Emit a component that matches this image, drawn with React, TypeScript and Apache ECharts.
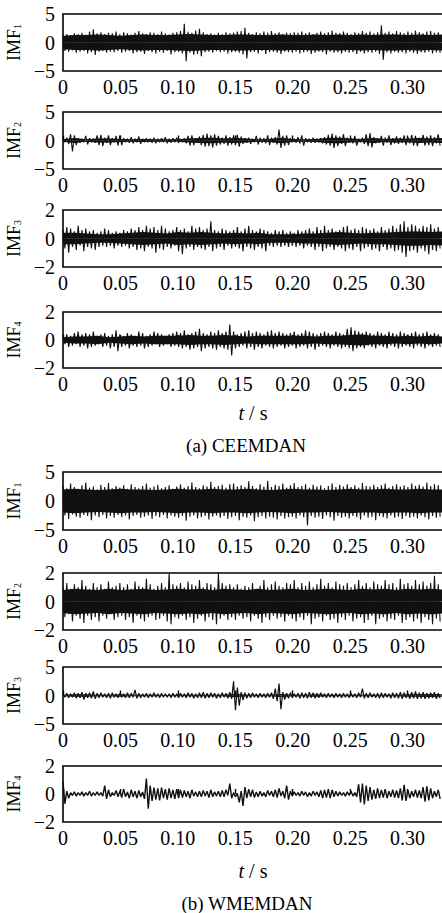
import React, { useEffect, useRef } from "react";
import * as echarts from "echarts";

// ---- data (envelope peaks read per time bin, DT = 0.0033 s) ----
const DT = 0.0033;
const X_MAX = 0.35;
const X_STEP = 0.05;
// solid-core half-width read every 0.01 s (t = 0 ... 0.33)
const CORE_DT = 0.01;

const ceemdan1Hi = [1.4,1.5,1.3,1.6,1.5,1.7,1.4,1.9,2.3,1.6,1.8,1.5,1.7,1.6,1.9,
1.5,1.8,1.6,1.4,1.7,2.0,1.6,1.5,1.8,1.7,1.5,1.9,1.6,1.4,1.7,
1.8,2.0,3.3,1.9,1.7,2.1,2.4,1.8,1.5,1.6,1.4,1.7,1.5,1.8,1.6,
1.7,1.9,2.0,2.6,1.7,1.5,1.8,1.6,1.9,1.7,2.0,1.6,1.8,1.5,1.7,
1.6,1.8,1.7,1.9,1.6,1.8,1.5,1.7,1.9,1.6,1.8,2.1,1.7,1.6,1.9,
1.7,1.5,1.8,1.6,2.0,1.7,1.9,1.6,1.8,3.0,1.7,1.9,1.6,2.0,1.8,
1.6,1.9,1.7,2.1,1.8,1.6,1.9,2.0,1.7,1.8];
const ceemdan1Lo = [-1.5,-1.6,-1.4,-1.8,-1.6,-1.5,-1.9,-1.7,-2.2,-1.6,-1.5,-1.8,-1.6,-1.7,-1.5,
-1.8,-1.6,-1.5,-1.9,-1.7,-1.6,-2.0,-1.5,-1.7,-1.9,-1.6,-1.8,-1.5,-2.1,-1.7,
-1.6,-1.9,-3.3,-1.8,-2.2,-2.0,-2.4,-1.7,-1.6,-1.8,-1.5,-1.7,-1.6,-1.9,-1.7,
-1.6,-1.8,-2.1,-2.8,-1.7,-1.6,-1.9,-1.5,-2.0,-1.7,-1.6,-1.8,-2.0,-1.6,-1.7,
-1.8,-1.6,-1.9,-1.7,-1.6,-2.0,-1.8,-1.6,-1.7,-2.1,-1.6,-1.8,-1.7,-1.9,-1.6,
-1.8,-1.7,-2.0,-1.6,-1.9,-1.7,-1.8,-1.6,-2.0,-3.0,-1.7,-1.9,-1.6,-1.8,-1.7,
-1.9,-1.6,-1.8,-2.0,-1.7,-1.8,-1.6,-1.9,-1.7,-1.8];
const ceemdan1Core = [1.2,1.3,1.3,1.4,1.3,1.2,1.3,1.4,1.3,1.3,1.4,1.5,1.4,1.3,1.3,1.4,1.4,
1.3,1.3,1.4,1.3,1.3,1.4,1.3,1.4,1.3,1.4,1.3,1.4,1.4,1.3,1.4,1.3,1.4];

const ceemdan2Hi = [0.3,0.5,1.1,0.9,0.4,0.3,0.8,0.4,0.3,0.9,1.0,0.5,0.9,0.4,0.8,
0.9,0.4,0.3,0.6,0.3,0.7,0.3,0.4,0.3,0.5,0.3,0.4,0.6,0.3,0.4,
0.5,0.3,0.4,0.8,0.9,0.4,0.7,1.0,1.2,0.9,1.1,0.8,0.5,0.9,0.6,
0.9,1.0,0.7,0.4,0.5,0.3,0.8,0.5,0.4,0.9,0.5,0.6,1.9,0.8,0.9,
0.4,0.3,0.6,0.9,0.4,0.3,0.5,0.3,0.4,0.6,1.0,1.2,0.9,0.7,1.1,
0.5,0.4,0.8,0.3,0.5,1.1,1.3,0.6,0.4,0.8,0.5,0.9,0.4,0.7,0.5,
0.9,0.6,1.0,0.8,0.5,1.0,0.7,0.9,0.6,1.1];
const ceemdan2Lo = [-0.3,-0.6,-1.9,-0.8,-0.4,-0.3,-0.7,-0.3,-0.4,-0.8,-1.0,-0.4,-0.8,-0.3,-0.9,
-0.8,-0.3,-0.4,-0.5,-0.3,-0.6,-0.3,-0.3,-0.4,-0.5,-0.3,-0.3,-0.5,-0.4,-0.3,
-0.4,-0.3,-0.5,-0.9,-0.8,-0.4,-0.8,-1.1,-1.0,-1.2,-0.9,-0.7,-0.6,-0.9,-0.7,
-0.8,-1.1,-0.6,-0.4,-0.6,-0.3,-0.7,-0.4,-0.5,-0.8,-0.4,-0.7,-1.3,-0.9,-0.8,
-0.3,-0.4,-0.5,-0.9,-0.3,-0.4,-0.4,-0.3,-0.5,-0.7,-0.9,-1.3,-1.0,-0.6,-1.0,
-0.4,-0.5,-0.9,-0.3,-0.6,-1.0,-1.2,-0.5,-0.4,-0.9,-0.4,-0.8,-0.5,-0.6,-0.4,
-0.8,-0.5,-0.9,-1.0,-0.4,-0.9,-0.8,-1.0,-0.5,-0.9];
const ceemdan2Core = [0.2,0.45,0.2,0.35,0.35,0.25,0.2,0.25,0.2,0.2,0.2,0.35,0.45,0.5,0.35,0.45,0.35,
0.2,0.25,0.5,0.25,0.2,0.25,0.45,0.5,0.35,0.25,0.45,0.25,0.35,0.3,0.45,0.35,0.45];

const ceemdan3Hi = [0.6,0.8,0.7,0.5,0.9,0.6,0.7,0.5,0.6,0.4,0.5,0.7,0.6,0.4,0.5,
0.4,0.6,0.5,0.7,0.6,0.8,0.6,0.9,0.7,0.8,0.6,0.9,0.7,0.5,0.6,
0.8,0.6,0.7,0.5,0.9,0.7,0.8,0.6,0.7,1.2,0.6,0.5,0.7,0.6,0.5,
0.6,0.8,0.5,0.7,0.9,0.6,0.5,0.7,0.6,0.5,0.4,0.6,0.5,0.6,0.4,
0.5,0.4,0.6,0.5,0.6,0.7,0.5,0.8,0.6,0.9,0.6,0.7,0.5,0.6,0.8,
0.9,0.6,0.7,0.6,0.8,0.7,0.6,0.7,0.5,0.8,0.6,0.7,0.9,0.7,1.0,
1.2,0.8,1.0,0.9,0.7,0.9,0.8,1.0,0.7,0.8];
const ceemdan3Lo = [-0.7,-1.0,-0.6,-0.8,-0.5,-0.9,-0.6,-0.7,-0.8,-0.6,-0.5,-0.6,-0.5,-0.7,-0.5,
-0.6,-0.5,-0.7,-0.6,-0.8,-0.7,-0.9,-0.6,-0.7,-1.0,-0.7,-0.8,-0.6,-0.7,-0.5,
-0.9,-1.1,-0.7,-0.6,-0.8,-0.6,-0.7,-0.8,-0.6,-0.9,-0.7,-0.6,-0.8,-0.5,-0.7,
-0.6,-0.7,-0.9,-0.6,-0.7,-0.8,-0.6,-0.7,-0.9,-0.5,-0.6,-0.5,-0.6,-0.5,-0.6,
-0.5,-0.6,-0.5,-0.7,-0.5,-0.6,-0.8,-0.6,-0.9,-0.7,-0.6,-0.8,-0.6,-0.7,-0.9,
-0.7,-0.8,-0.6,-0.9,-0.7,-0.6,-0.8,-0.7,-0.9,-0.6,-0.8,-0.7,-0.9,-0.8,-1.0,
-1.3,-0.9,-0.8,-1.0,-0.7,-0.9,-1.1,-0.8,-0.9,-0.7];
const ceemdan3Core = [0.4,0.4,0.35,0.3,0.3,0.35,0.4,0.45,0.4,0.35,0.45,0.4,0.45,0.4,0.35,0.4,0.35,
0.4,0.3,0.3,0.3,0.35,0.35,0.4,0.45,0.4,0.35,0.4,0.4,0.45,0.5,0.5,0.45,0.5];

const ceemdan4Hi = [0.3,0.4,0.3,0.5,0.6,0.4,0.5,0.4,0.6,0.3,0.4,0.5,0.3,0.4,0.7,
0.4,0.3,0.5,0.4,0.3,0.6,0.5,0.3,0.4,0.6,0.5,0.4,0.3,0.4,0.5,
0.6,0.5,0.7,0.4,0.5,0.6,0.8,0.5,0.4,0.6,0.5,0.7,0.5,0.6,1.1,
0.6,0.4,0.5,0.6,0.7,0.5,0.6,0.5,0.4,0.6,0.7,0.5,0.6,0.5,0.4,
0.5,0.6,0.4,0.5,0.7,0.6,0.5,0.4,0.5,0.6,0.5,0.4,0.6,0.5,0.4,
0.8,0.9,0.7,0.6,0.5,0.6,0.5,0.4,0.6,0.5,0.4,0.6,0.5,0.4,0.6,
0.5,0.4,0.5,0.6,0.4,0.5,0.6,0.4,0.5,0.4];
const ceemdan4Lo = [-0.3,-0.5,-0.4,-0.3,-0.5,-0.4,-0.6,-0.5,-0.4,-0.3,-0.5,-0.4,-0.6,-0.5,-0.8,
-0.5,-0.4,-0.6,-0.4,-0.5,-0.4,-0.6,-0.5,-0.4,-0.3,-0.5,-0.4,-0.3,-0.5,-0.4,
-0.5,-0.6,-0.5,-0.7,-0.6,-0.5,-0.8,-0.6,-0.5,-0.6,-0.7,-0.5,-0.6,-0.7,-1.1,
-0.6,-0.5,-0.4,-0.6,-0.5,-0.7,-0.5,-0.6,-0.4,-0.5,-0.6,-0.5,-0.4,-0.6,-0.5,
-0.4,-0.6,-0.5,-0.4,-0.6,-0.5,-0.7,-0.5,-0.4,-0.5,-0.6,-0.4,-0.5,-0.6,-0.5,
-0.6,-0.8,-0.6,-0.5,-0.6,-0.4,-0.5,-0.6,-0.4,-0.5,-0.6,-0.4,-0.5,-0.6,-0.5,
-0.4,-0.5,-0.6,-0.4,-0.5,-0.6,-0.4,-0.5,-0.4,-0.5];
const ceemdan4Core = [0.2,0.25,0.25,0.3,0.2,0.25,0.3,0.25,0.3,0.3,0.3,0.35,0.3,0.3,0.35,0.3,0.25,
0.3,0.3,0.3,0.3,0.3,0.25,0.3,0.3,0.35,0.4,0.3,0.3,0.25,0.3,0.25,0.3,0.25];

const wmemdan1Hi = [2.6,2.2,3.0,2.4,2.1,2.7,3.2,2.3,2.5,2.0,2.8,2.4,3.1,2.2,2.6,
2.3,2.7,2.1,2.9,2.4,2.2,2.6,3.0,2.3,2.5,2.8,2.2,2.4,2.7,2.1,
2.5,2.9,2.3,2.6,3.2,2.4,2.2,2.7,2.5,3.3,2.4,2.6,2.8,2.3,2.9,
3.0,2.5,2.7,2.4,3.4,2.6,2.2,2.9,2.5,3.5,2.4,2.8,2.6,3.0,2.3,
2.7,3.1,2.4,2.6,2.9,2.3,2.8,2.5,2.7,2.2,2.6,3.0,2.4,2.8,2.5,
2.9,2.4,2.7,2.3,3.1,2.6,2.5,2.8,2.4,2.7,3.0,2.3,2.6,2.9,2.5,
2.7,2.4,3.0,2.6,2.8,2.5,3.2,2.6,2.9,2.7];
const wmemdan1Lo = [-2.5,-3.1,-2.3,-2.7,-2.9,-2.4,-2.6,-3.3,-2.5,-2.8,-2.4,-3.0,-2.6,-2.9,-2.4,
-2.8,-2.5,-3.2,-2.6,-2.4,-2.9,-2.7,-2.5,-3.1,-2.6,-2.8,-2.4,-3.0,-2.5,-2.7,
-2.9,-2.6,-3.4,-2.7,-2.5,-3.0,-2.8,-2.6,-3.2,-2.7,-2.5,-2.9,-2.6,-3.1,-2.8,
-2.6,-3.3,-2.7,-2.9,-2.5,-3.5,-2.8,-2.6,-3.0,-2.7,-2.9,-3.2,-2.6,-3.0,-2.8,
-2.7,-3.0,-2.5,-2.8,-4.2,-2.6,-2.9,-2.7,-3.1,-2.5,-2.8,-3.4,-2.6,-2.9,-2.7,
-3.0,-2.6,-2.8,-3.2,-2.5,-2.9,-2.7,-3.3,-2.6,-2.8,-3.0,-2.5,-2.9,-2.7,-3.1,
-2.6,-2.9,-2.7,-3.0,-2.5,-2.8,-3.2,-2.6,-2.9,-2.7];
const wmemdan1Core = [2.0,2.1,2.0,1.9,2.0,2.1,2.0,2.0,1.9,2.0,2.1,2.0,2.0,2.1,2.0,2.0,2.1,
2.0,1.9,2.0,2.1,2.0,2.0,1.9,2.0,2.1,2.0,2.0,2.1,2.0,2.0,2.1,2.0,2.0];

const wmemdan2Hi = [1.0,1.3,0.9,1.2,1.0,1.5,1.1,0.9,1.3,1.0,1.2,0.9,1.4,1.0,1.1,
1.3,1.0,1.2,0.9,1.4,1.1,1.0,1.6,1.2,0.9,1.1,1.3,1.0,2.0,1.2,
1.1,1.3,1.0,1.4,1.2,1.1,1.5,1.0,1.3,1.2,1.0,2.0,1.3,1.1,1.2,
1.0,1.2,0.9,1.1,1.0,1.3,0.9,1.1,1.5,1.0,1.2,1.4,1.1,1.0,1.3,
1.2,1.5,1.0,1.3,1.1,1.4,1.0,1.2,1.6,1.1,1.3,1.0,1.4,1.2,1.1,
1.3,1.0,1.2,1.5,1.1,1.3,1.0,1.4,1.2,1.1,1.5,1.2,1.3,1.0,1.6,
1.2,1.3,1.1,1.5,1.2,1.4,1.1,1.3,1.8,1.2];
const wmemdan2Lo = [-1.1,-0.9,-1.4,-1.0,-1.2,-1.5,-1.0,-1.3,-1.1,-1.4,-1.0,-1.2,-0.9,-1.3,-1.1,
-1.0,-1.3,-1.1,-1.5,-1.0,-1.2,-1.4,-1.1,-1.0,-1.3,-1.2,-1.0,-1.4,-1.6,-1.1,
-1.2,-1.0,-1.3,-1.1,-1.5,-1.2,-1.0,-1.4,-1.1,-1.3,-1.6,-1.2,-1.0,-1.3,-1.1,
-1.3,-1.0,-1.2,-1.1,-1.4,-1.0,-1.2,-1.5,-1.1,-1.3,-1.0,-1.2,-1.1,-1.4,-1.0,
-1.2,-1.4,-1.1,-1.3,-1.0,-1.6,-1.2,-1.1,-1.4,-1.0,-1.3,-1.2,-1.5,-1.1,-1.3,
-1.0,-1.4,-1.2,-1.1,-1.5,-1.3,-1.0,-1.6,-1.2,-1.1,-1.4,-1.2,-1.3,-1.0,-1.5,
-1.3,-1.1,-1.4,-1.2,-1.5,-1.1,-1.3,-1.6,-1.2,-1.4];
const wmemdan2Core = [0.8,0.9,0.85,0.8,0.9,0.8,0.85,0.9,0.8,0.85,0.9,0.85,0.9,0.8,0.9,0.85,0.8,
0.9,0.8,0.85,0.9,0.8,0.85,0.9,0.85,0.8,0.9,0.85,0.9,0.8,0.9,0.85,0.9,0.85];

const wmemdan3Hi = [0.3,0.4,0.3,0.5,0.4,0.6,0.4,0.5,0.7,0.4,0.5,0.3,0.4,0.5,0.3,
0.4,0.3,0.5,0.4,1.0,0.4,0.3,0.4,0.3,0.5,0.3,0.4,0.3,0.3,0.4,
0.3,0.4,0.3,0.5,0.4,0.3,0.5,0.6,0.4,0.5,0.4,0.3,0.5,0.4,0.6,
2.5,1.4,0.6,0.5,0.4,0.5,0.3,0.4,0.3,0.4,0.5,1.2,2.1,0.6,0.4,
0.5,0.3,0.4,0.5,0.4,0.6,0.5,0.4,0.5,0.3,0.4,0.3,0.4,0.3,0.4,
0.3,0.4,0.3,0.5,1.2,0.4,0.5,0.3,0.4,0.5,0.4,0.3,0.5,0.4,0.6,
0.5,0.4,0.6,0.7,0.5,0.6,0.4,0.5,0.6,0.4];
const wmemdan3Lo = [-0.3,-0.4,-0.3,-0.5,-0.4,-0.7,-0.4,-0.5,-0.6,-0.4,-0.3,-0.4,-0.5,-0.3,-0.4,
-0.3,-0.4,-0.4,-0.3,-0.5,-0.4,-0.3,-0.4,-0.3,-0.3,-0.4,-0.3,-0.3,-0.4,-0.3,
-0.4,-0.3,-0.4,-0.3,-0.5,-0.4,-0.4,-0.5,-0.4,-0.3,-0.5,-0.4,-0.3,-0.5,-0.6,
-2.6,-1.8,-0.8,-0.5,-0.4,-0.3,-0.4,-0.3,-0.4,-0.3,-0.6,-1.0,-2.4,-0.7,-0.5,
-0.4,-0.3,-0.5,-0.4,-0.5,-0.4,-0.5,-0.4,-0.3,-0.4,-0.3,-0.4,-0.3,-0.4,-0.3,
-0.4,-0.3,-0.4,-0.3,-0.5,-0.4,-0.3,-0.4,-0.5,-0.4,-0.3,-0.5,-0.4,-0.5,-0.6,
-0.4,-0.6,-0.5,-0.6,-0.5,-0.6,-0.5,-0.4,-0.6,-0.5];
const wmemdan3Core = [0.15,0.2,0.2,0.15,0.15,0.2,0.15,0.12,0.12,0.1,0.12,0.15,0.15,0.12,0.15,0.3,0.15,
0.12,0.15,0.25,0.12,0.15,0.2,0.15,0.12,0.12,0.15,0.12,0.15,0.15,0.2,0.2,0.25,0.2];

const wmemdan4Hi = [0.9,0.2,0.1,0.15,0.1,0.15,0.1,0.2,0.1,0.15,0.1,0.6,0.3,0.1,0.25,
0.2,0.35,0.15,0.3,0.2,0.25,0.15,1.1,0.6,0.45,0.4,0.45,0.35,0.4,0.3,
0.35,0.3,0.25,0.2,0.3,0.15,0.2,0.25,0.2,0.3,0.15,0.2,0.25,0.3,0.75,
0.1,0.05,0.2,0.5,0.35,0.3,0.15,0.2,0.1,0.25,0.2,0.3,0.4,0.2,0.6,
0.2,0.15,0.1,0.2,0.15,0.1,0.2,0.15,0.25,0.3,0.35,0.3,0.2,0.15,0.1,
0.15,0.2,0.1,0.7,0.75,0.6,0.5,0.3,0.4,0.3,0.35,0.2,0.3,0.25,0.4,
0.65,0.3,0.2,0.3,0.25,0.5,0.55,0.4,0.2,0.3];
const wmemdan4Lo = [-0.7,-0.3,-0.1,-0.15,-0.1,-0.15,-0.1,-0.15,-0.1,-0.1,-0.15,-0.35,-0.2,-0.1,-0.2,
-0.25,-0.2,-0.3,-0.2,-0.3,-0.2,-0.35,-1.05,-0.5,-0.4,-0.45,-0.3,-0.4,-0.3,-0.35,
-0.3,-0.25,-0.2,-0.3,-0.15,-0.2,-0.2,-0.15,-0.25,-0.2,-0.15,-0.2,-0.2,-0.1,-0.3,
-0.2,-0.6,-0.85,-0.3,-0.2,-0.25,-0.2,-0.15,-0.2,-0.1,-0.2,-0.25,-0.15,-0.3,-0.4,
-0.15,-0.1,-0.15,-0.1,-0.2,-0.15,-0.1,-0.2,-0.3,-0.25,-0.3,-0.2,-0.15,-0.1,-0.15,
-0.1,-0.15,-0.2,-0.6,-0.75,-0.5,-0.4,-0.35,-0.3,-0.25,-0.3,-0.2,-0.25,-0.3,-0.45,
-0.5,-0.3,-0.2,-0.25,-0.3,-0.55,-0.45,-0.3,-0.2,-0.35];

const imfIndex = ["1", "2", "3", "4", "1", "2", "3", "4"];
const yLimits = [5, 5, 2, 2, 5, 2, 5, 2];
const seriesHi = [ceemdan1Hi, ceemdan2Hi, ceemdan3Hi, ceemdan4Hi, wmemdan1Hi, wmemdan2Hi, wmemdan3Hi, wmemdan4Hi];
const seriesLo = [ceemdan1Lo, ceemdan2Lo, ceemdan3Lo, ceemdan4Lo, wmemdan1Lo, wmemdan2Lo, wmemdan3Lo, wmemdan4Lo];
const seriesCore = [ceemdan1Core, ceemdan2Core, ceemdan3Core, ceemdan4Core, wmemdan1Core, wmemdan2Core, wmemdan3Core, null];
const captions = ["(a) CEEMDAN", "(b) WMEMDAN"];

// ---- layout ----
const FONT = '"Liberation Serif", "Times New Roman", serif';
const GRID_LEFT = 63;
const GRID_WIDTH = 402;
const gridTops = [14, 112, 210, 312, 472, 573, 667, 766];
const gridHeights = [57, 57, 57, 56, 58, 57, 57, 56];
const lineWidths = [1.1, 1.1, 1.1, 1.1, 1.1, 1.1, 1.2, 1.4];

export default function App() {
  const ref = useRef<HTMLDivElement>(null);

  useEffect(() => {
    document.body.style.margin = "0";
    if (!ref.current) return;
    const chart = echarts.init(ref.current, undefined, { renderer: "svg" });

    const grids: any[] = [];
    const xAxes: any[] = [];
    const yAxes: any[] = [];
    const series: any[] = [];

    for (let k = 0; k < 8; k++) {
      grids.push({
        left: GRID_LEFT,
        top: gridTops[k],
        width: GRID_WIDTH,
        height: gridHeights[k],
        containLabel: false,
        outerBoundsMode: "none",
        show: true,
        borderColor: "#000",
        borderWidth: 1.6,
        backgroundColor: "transparent",
      });
      xAxes.push({
        gridIndex: k,
        type: "value",
        min: 0,
        max: X_MAX,
        interval: X_STEP,
        axisLine: { show: false },
        axisTick: { show: true, inside: true, length: 5, lineStyle: { color: "#000", width: 1.4 } },
        splitLine: { show: false },
        axisLabel: {
          fontFamily: FONT,
          fontSize: 20,
          color: "#000",
          margin: 6,
          showMaxLabel: false,
          formatter: (v: number) => (v === 0 ? "0" : v.toFixed(2)),
        },
      });
      const m = yLimits[k];
      yAxes.push({
        gridIndex: k,
        type: "value",
        min: -m,
        max: m,
        interval: m,
        axisLine: { show: false },
        axisTick: { show: false },
        splitLine: { show: false },
        axisLabel: {
          fontFamily: FONT,
          fontSize: 20,
          color: "#000",
          margin: 8,
          formatter: (v: number) => String(v).replace("-", "\u2212"),
        },
        name: `{n|IMF}{s|${imfIndex[k]}}`,
        nameLocation: "middle",
        nameRotate: 90,
        nameGap: 34,
        nameTextStyle: {
          rich: {
            n: { fontFamily: FONT, fontSize: 18, color: "#000" },
            s: { fontFamily: FONT, fontSize: 10, color: "#000", verticalAlign: "bottom" },
          },
        },
      });

      // solid core band: upper and lower halves, each filled to y = 0
      const core = seriesCore[k];
      if (core) {
        for (const sign of [1, -1]) {
          series.push({
            type: "line",
            xAxisIndex: k,
            yAxisIndex: k,
            data: core.map((a, j) => [j * CORE_DT, sign * a]),
            showSymbol: false,
            symbol: "none",
            lineStyle: { width: 0, opacity: 0 },
            areaStyle: { color: "#111", opacity: 1, origin: 0 },
            silent: true,
            z: 1,
          });
        }
      }

      // peak envelope trace
      const hi = seriesHi[k];
      const lo = seriesLo[k];
      const data: number[][] = [];
      for (let i = 0; i < hi.length; i++) {
        data.push([i * DT, hi[i]]);
        data.push([(i + 0.5) * DT, lo[i]]);
      }
      series.push({
        type: "line",
        xAxisIndex: k,
        yAxisIndex: k,
        data,
        showSymbol: false,
        symbol: "none",
        lineStyle: { color: "#111", width: lineWidths[k] },
        z: 2,
      });
    }

    const capText = (x: number, y: number, text: string) => ({
      type: "text",
      x,
      y,
      style: {
        text,
        align: "center",
        verticalAlign: "middle",
        fontFamily: FONT,
        fontSize: 19,
        fill: "#000",
      },
    });
    const unitText = (x: number, y: number) => ({
      type: "text",
      x,
      y,
      style: {
        text: "{i|t} / s",
        align: "center",
        verticalAlign: "middle",
        fontFamily: FONT,
        fontSize: 20,
        fill: "#000",
        rich: {
          i: { fontFamily: FONT, fontSize: 20, fontStyle: "italic", fill: "#000" },
        },
      },
    });

    chart.setOption({
      animation: false,
      backgroundColor: "#fff",
      grid: grids,
      xAxis: xAxes,
      yAxis: yAxes,
      series,
      graphic: [
        unitText(253, 413),
        capText(246, 445, captions[0]),
        unitText(253, 871),
        capText(247, 903, captions[1]),
      ],
    });

    return () => chart.dispose();
  }, []);

  return (
    <div
      ref={ref}
      style={{ position: "absolute", left: 0, top: 0, width: 442, height: 913, background: "#fff" }}
    />
  );
}
